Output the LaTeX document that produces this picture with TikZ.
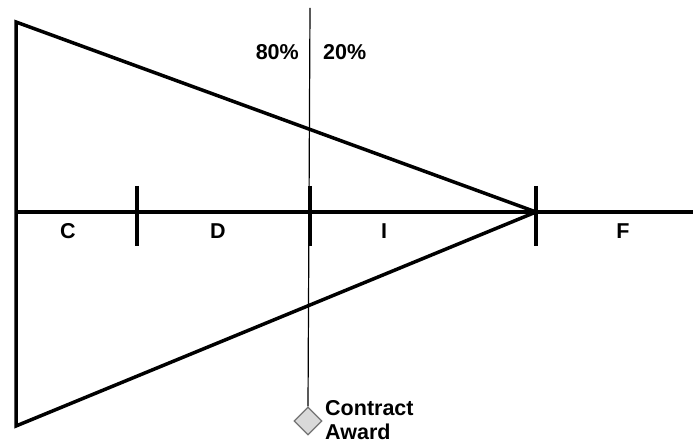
\documentclass[tikz,border=0pt]{standalone}
\usepackage{fontspec}
\setmainfont{Liberation Sans}
\usetikzlibrary{shapes.geometric}
\begin{document}
\begin{tikzpicture}[x=1pt,y=-1pt,
  thick line/.style={line width=3.5pt},
  tick/.style={line width=3.5pt},
  lbl/.style={font=\bfseries\fontsize{21.5}{24}\selectfont, inner sep=0pt},
  ms/.style={diamond, draw=black!55, fill=black!15, line width=1.2pt, minimum width=28pt, minimum height=28pt, inner sep=0pt}]
\useasboundingbox (0,0) rectangle (693,446);
\coordinate (tl) at (16,22);
\coordinate (bl) at (16,426);
\coordinate (ml) at (16,212);
\coordinate (tip) at (536,212);
\coordinate (mr) at (693,212);
\coordinate (vt) at (310,8);
\node[ms] (dia) at (308,421) {};
\draw[line width=1.2pt] (vt) -- (dia.north);
\draw[thick line, line join=miter] (tip) -- (tl) -- (bl) -- cycle;
\draw[thick line] (ml) -- (mr);
\foreach \x/\n in {137/t1,310/t2,536/t3}{
  \draw[tick] (\x,186) -- (\x,246);
}
\node[lbl] (c) at (68,231) {C};
\node[lbl] (d) at (218,231) {D};
\node[lbl] (i) at (384,231) {I};
\node[lbl] (f) at (623,231) {F};
\node[lbl, anchor=east] (p80) at (299,52) {80\%};
\node[lbl, anchor=west] (p20) at (323,52) {20\%};
\node[lbl, anchor=north west, align=left] (ca) at (325,400) {Contract\\Award};
\end{tikzpicture}
\end{document}
